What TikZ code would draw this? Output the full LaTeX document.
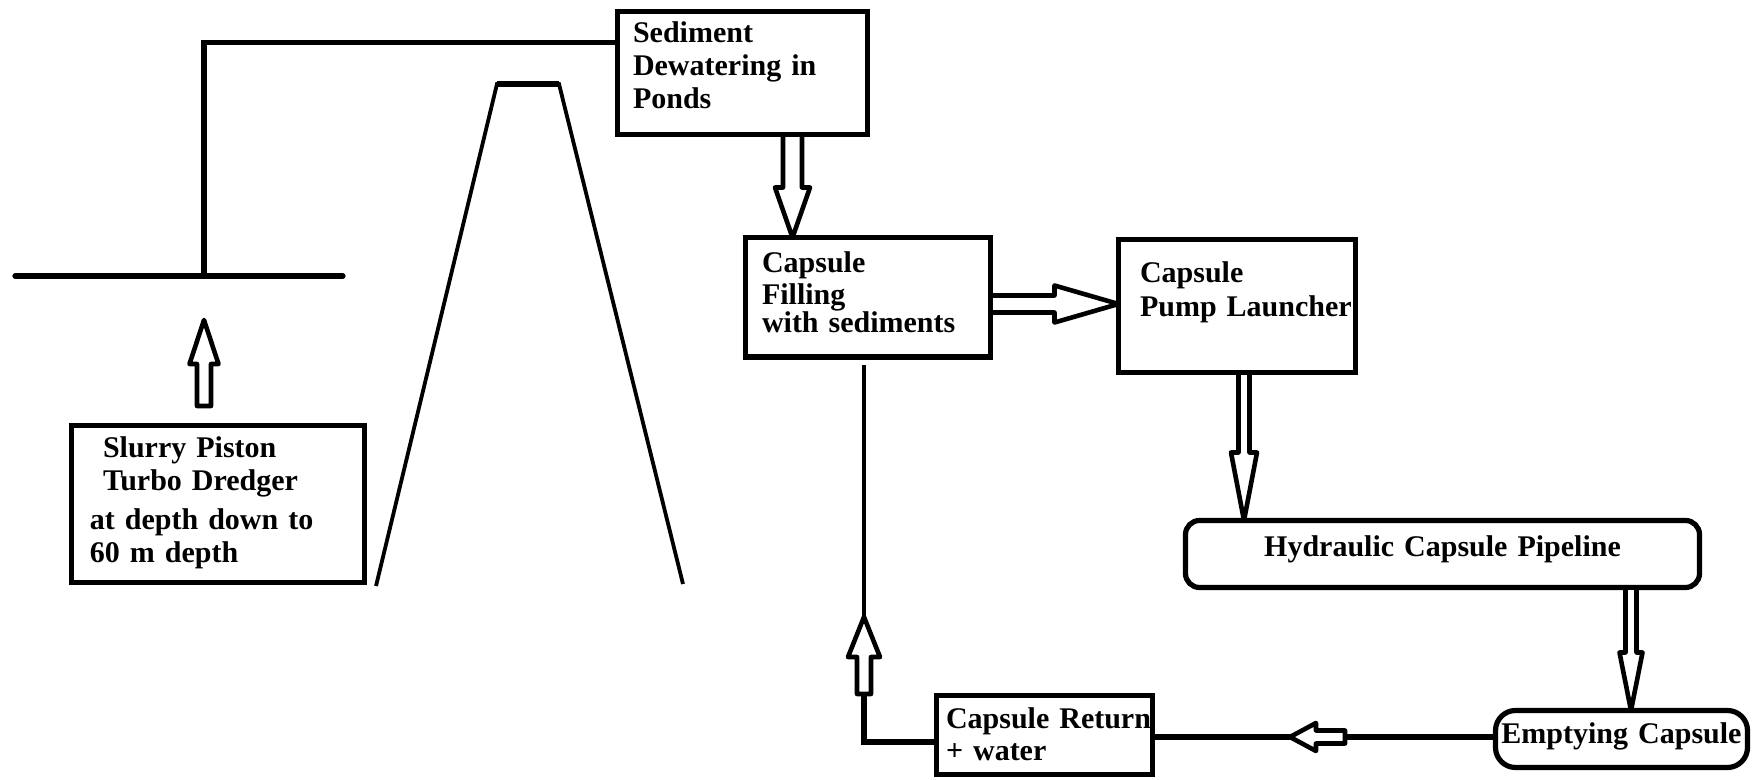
\documentclass[tikz,border=0pt]{standalone}
\usepackage{fontspec}
\setmainfont{Liberation Serif}
\usetikzlibrary{calc}
\tikzstyle{block} = [rectangle, draw, line width=2.6pt, outer sep=0pt,
inner ysep=0pt, align=left, anchor=north west]
\tikzstyle{tube} = [block, rounded corners=7pt, inner xsep=0pt, align=center]
\tikzstyle{line} = [draw, line width=2.6pt]
\tikzstyle{thinline} = [draw, line width=1.9pt]
% open block arrow: shaft half width, head half width, head length
\tikzset{hollow/.style n args={3}{draw, fill=white, line width=2.3pt, line join=round,
  to path={let \p1=($(\tikztotarget)-(\tikztostart)$),
    \n1={atan2(\y1,\x1)}, \n2={veclen(\x1,\y1)} in
    [shift={(\tikztostart)}, rotate=\n1]
    (0pt,-#1) -- ({\n2-#3},-#1) -- ({\n2-#3},-#2) -- ({\n2*1pt},0pt)
    -- ({\n2-#3},#2) -- ({\n2-#3},#1) -- (0pt,#1) -- cycle}}}

\begin{document}
\begin{tikzpicture}[x=0.5pt, y=-0.5pt, font=\fontsize{15}{16.5}\selectfont\bfseries]
        \useasboundingbox (0,0) rectangle (1752,780);

        \node [block, inner xsep=7.75pt, text width=109.5pt, text height=15.75pt, text depth=45.75pt] (sed) at (617.5,11.5) {Sediment\\ Dewatering in\\ Ponds};
        \node [block, inner xsep=9.25pt, text width=128pt, text height=16.25pt, text depth=62.25pt] (slurry) at (71.5,425.5) {\hspace*{6.5pt}Slurry Piston\\ \hspace*{6.5pt}Turbo Dredger\\[3pt] at depth down to\\ 60 m depth};
        \node [block, inner xsep=8.25pt, text width=106pt, text height=17.75pt, text depth=42pt] (fill) at (745.5,237.5) {Capsule\\[-0.5pt] Filling\\[-2.5pt] with sediments};
        \node [block, inner xsep=10.75pt, text width=97pt, text height=21.75pt, text depth=44.75pt] (pump) at (1118.5,239.5) {Capsule\\[0.5pt] \mbox{Pump Launcher}};
        \node [tube, text width=257pt, text height=18.25pt, text depth=15.25pt] (pipe) at (1185.5,520.5) {Hydraulic Capsule Pipeline};
        \node [tube, rounded corners=10pt, text width=126pt, text height=16.25pt, text depth=12.25pt] (emp) at (1495.5,710.5) {Emptying Capsule};
        \node [block, inner xsep=4.75pt, text width=98.5pt, text height=16.25pt, text depth=23.25pt] (ret) at (936.5,695.5) {\mbox{Capsule Return}\\[-0.5pt] + water};

        % water surface and delivery line
        \coordinate (wl) at (15,276);
        \coordinate (wr) at (343,276);
        \coordinate (riser) at (204,276);
        \coordinate (feed) at (0,42.5);
        \path [line, line cap=round] (wl) -- (wr);
        \path [line] (riser) |- (sed.west |- feed);

        % dam
        \coordinate (damsw) at (376,586);
        \coordinate (damnw) at (497,84);
        \coordinate (damne) at (559,84);
        \coordinate (damse) at (683,584);
        \path [thinline] (damsw) -- (damnw) -- (damne) -- (damse);
        \path [line] (damnw) -- (damne);

        % forward flow
        \coordinate (liftbase) at (204,406);
        \coordinate (lifttip) at (204,320);
        \coordinate (colB) at (792.5,0);
        \coordinate (rowC) at (0,304);
        \coordinate (colD) at (1244,0);
        \coordinate (colE) at (1631,0);
        \path [hollow={3.5pt}{7.25pt}{22pt}] (liftbase) to (lifttip);
        \path [hollow={4.75pt}{8.75pt}{25pt}] (sed.south -| colB) to (fill.north -| colB);
        \path [hollow={4.25pt}{9.25pt}{32pt}] (fill.east |- rowC) to (pump.west |- rowC);
        \path [hollow={2.75pt}{6.5pt}{34pt}] (pump.south -| colD) to (pipe.north -| colD);
        \path [hollow={2.75pt}{5.75pt}{29pt}] (pipe.south -| colE) to (emp.north -| colE);

        % return flow
        \coordinate (rowF) at (0,737);
        \coordinate (backtail) at (1345,737);
        \coordinate (backtip) at (1290,737);
        \coordinate (rowG) at (0,742);
        \coordinate (upbase) at (864,694);
        \coordinate (uptip) at (864,617);
        \path [line] (emp.west |- rowF) -- (ret.east |- rowF);
        \path [hollow={3.25pt}{7pt}{13pt}] (backtail) to (backtip);
        \path [line] (ret.west |- rowG) -| (upbase);
        \path [hollow={3.5pt}{8pt}{20pt}] (upbase) to (uptip);
        \path [thinline, shorten >=4pt] (uptip) -- (fill.south -| uptip);
      \end{tikzpicture}
\end{document}
